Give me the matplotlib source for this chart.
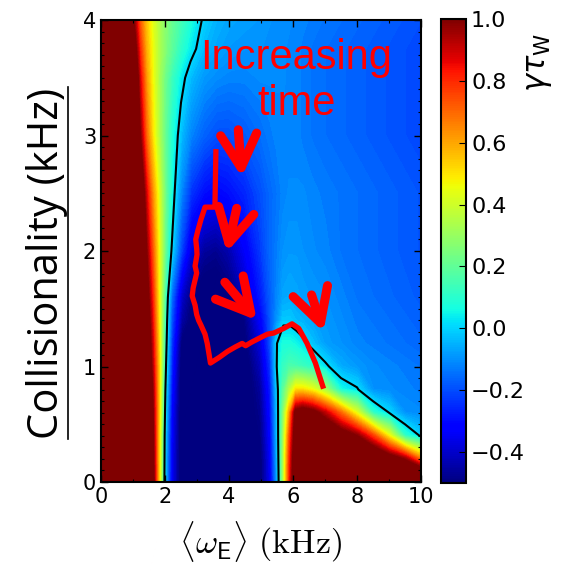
import numpy as np
import matplotlib
matplotlib.use("Agg")
import matplotlib.pyplot as plt
from matplotlib.colors import Normalize
from matplotlib.cm import ScalarMappable
from matplotlib.ticker import AutoMinorLocator, MultipleLocator
from matplotlib.lines import Line2D

# growth rate map gamma*tau_w on a coarse, uneven grid
omega_e = [0, 0.8, 1.0, 1.2, 1.4, 1.6, 1.8, 2.0, 2.2, 2.5,
           2.8, 3.2, 3.6, 4.0, 4.5, 5.0, 5.3, 5.5, 5.7, 5.9,
           6.1, 6.3, 6.6, 7.0, 7.5, 8.0, 8.5, 9.0, 9.5, 10.0]
collis = [0, 0.2, 0.4, 0.6, 0.8, 1.0, 1.2, 1.4, 1.6, 2.0, 2.5, 3.0, 3.5, 3.75, 4.0]

gamma_tau = [
    # y = 0
    [3, 2.5, 2.2, 1.8, 1.45, 1.08, 0.5, -0.05, -0.35, -0.55,
     -0.55, -0.55, -0.55, -0.55, -0.55, -0.52, -0.35, -0.1, 0.3, 0.8,
     1.2, 1.4, 1.5, 1.5, 1.5, 1.5, 1.5, 1.5, 1.5, 1.5],
    # y = 0.2
    [3, 2.5, 2.2, 1.8, 1.4, 1.05, 0.5, -0.04, -0.35, -0.55,
     -0.55, -0.55, -0.55, -0.55, -0.55, -0.52, -0.34, -0.08, 0.3, 0.78,
     1.15, 1.35, 1.45, 1.45, 1.4, 1.35, 1.25, 1.1, 0.95, 0.65],
    # y = 0.4
    [3, 2.5, 2.2, 1.8, 1.4, 1.03, 0.5, -0.03, -0.34, -0.55,
     -0.55, -0.55, -0.55, -0.55, -0.55, -0.5, -0.32, -0.06, 0.28, 0.72,
     1.1, 1.3, 1.3, 1.25, 1.1, 0.98, 0.75, 0.45, 0.1, -0.01],
    # y = 0.6
    [3, 2.5, 2.2, 1.75, 1.35, 1.0, 0.52, 0.0, -0.33, -0.55,
     -0.55, -0.55, -0.55, -0.55, -0.55, -0.48, -0.3, -0.05, 0.25, 0.6,
     1.05, 1.1, 1.05, 0.9, 0.68, 0.42, 0.1, 0.0, -0.1, -0.11],
    # y = 0.8
    [3, 2.5, 2.2, 1.7, 1.3, 0.97, 0.52, 0.02, -0.3, -0.55,
     -0.55, -0.55, -0.55, -0.55, -0.55, -0.46, -0.28, -0.03, 0.18, 0.35,
     0.5, 0.5, 0.45, 0.32, 0.06, 0.01, -0.1, -0.11, -0.12, -0.13],
    # y = 1.0
    [3, 2.5, 2.1, 1.65, 1.25, 0.92, 0.52, 0.05, -0.27, -0.55,
     -0.55, -0.55, -0.55, -0.55, -0.55, -0.42, -0.24, 0.01, 0.12, 0.16,
     0.15, 0.13, 0.1, 0.02, -0.06, -0.09, -0.11, -0.12, -0.13, -0.14],
    # y = 1.2
    [3, 2.5, 2.0, 1.6, 1.2, 0.88, 0.5, 0.08, -0.24, -0.52,
     -0.55, -0.55, -0.55, -0.55, -0.52, -0.38, -0.2, 0.0, 0.07, 0.07,
     0.05, 0.02, -0.03, -0.08, -0.1, -0.12, -0.13, -0.14, -0.15, -0.16],
    # y = 1.4
    [3, 2.4, 1.9, 1.5, 1.15, 0.84, 0.48, 0.1, -0.2, -0.45,
     -0.52, -0.55, -0.55, -0.55, -0.5, -0.33, -0.19, -0.1, -0.02, -0.02,
     -0.04, -0.05, -0.07, -0.09, -0.11, -0.13, -0.14, -0.15, -0.16, -0.17],
    # y = 1.6
    [3, 2.3, 1.8, 1.45, 1.1, 0.8, 0.46, 0.13, -0.16, -0.4,
     -0.5, -0.55, -0.55, -0.52, -0.42, -0.28, -0.18, -0.12, -0.07, -0.06,
     -0.07, -0.08, -0.09, -0.1, -0.12, -0.14, -0.15, -0.16, -0.17, -0.18],
    # y = 2.0
    [3, 2.2, 1.7, 1.35, 1.0, 0.72, 0.45, 0.2, 0.0, -0.22,
     -0.38, -0.46, -0.48, -0.44, -0.34, -0.23, -0.16, -0.13, -0.1, -0.09,
     -0.09, -0.1, -0.11, -0.12, -0.14, -0.15, -0.16, -0.17, -0.18, -0.19],
    # y = 2.5
    [3, 2.0, 1.55, 1.2, 0.88, 0.63, 0.42, 0.22, 0.06, -0.12,
     -0.24, -0.3, -0.32, -0.3, -0.26, -0.2, -0.16, -0.14, -0.12, -0.11,
     -0.11, -0.11, -0.12, -0.13, -0.14, -0.15, -0.16, -0.17, -0.18, -0.19],
    # y = 3.0
    [3, 1.8, 1.4, 1.0, 0.7, 0.5, 0.34, 0.2, 0.08, -0.04,
     -0.12, -0.17, -0.2, -0.2, -0.18, -0.15, -0.13, -0.12, -0.12, -0.12,
     -0.12, -0.13, -0.14, -0.15, -0.16, -0.17, -0.18, -0.19, -0.2, -0.21],
    # y = 3.5
    [3, 1.6, 1.25, 0.88, 0.62, 0.46, 0.33, 0.22, 0.13, 0.03,
     -0.04, -0.09, -0.11, -0.12, -0.12, -0.11, -0.11, -0.11, -0.11, -0.12,
     -0.12, -0.13, -0.14, -0.15, -0.16, -0.17, -0.18, -0.19, -0.2, -0.21],
    # y = 3.75
    [3, 1.5, 1.12, 0.8, 0.58, 0.45, 0.34, 0.26, 0.19, 0.1,
     0.03, -0.04, -0.07, -0.09, -0.1, -0.1, -0.1, -0.11, -0.11, -0.12,
     -0.12, -0.13, -0.14, -0.15, -0.16, -0.17, -0.18, -0.19, -0.2, -0.21],
    # y = 4.0
    [3, 1.4, 1.0, 0.72, 0.55, 0.43, 0.34, 0.27, 0.21, 0.14,
     0.07, -0.01, -0.05, -0.07, -0.08, -0.09, -0.1, -0.1, -0.11, -0.11,
     -0.12, -0.12, -0.13, -0.14, -0.15, -0.16, -0.17, -0.18, -0.19, -0.2],
]

# experimental trajectory (red line)
traj_x = [3.59, 3.56, 3.25, 3.12, 3.02, 2.96, 2.99, 3.00, 2.94, 2.99, 2.88, 2.85,
          2.94, 2.99, 3.05, 3.12, 3.25, 3.32, 3.38, 3.42, 3.70, 3.95, 4.20, 4.41,
          4.52, 4.70, 4.98, 5.20, 5.40, 5.71, 5.97, 6.18, 6.44, 6.70, 6.93]
traj_y = [2.86, 2.38, 2.38, 2.27, 2.17, 2.10, 2.02, 1.97, 1.87, 1.81, 1.68, 1.61,
          1.53, 1.45, 1.40, 1.36, 1.28, 1.20, 1.10, 1.03, 1.08, 1.13, 1.17, 1.20,
          1.18, 1.21, 1.25, 1.28, 1.29, 1.33, 1.37, 1.33, 1.20, 1.03, 0.83]

# arrows: (tail x, tail y, tip x, tip y)
arrows = [(4.29, 3.05, 4.40, 2.64),
          (4.24, 2.37, 3.93, 1.99),
          (3.87, 1.73, 4.87, 1.40),
          (6.58, 1.62, 6.95, 1.30)]

fig = plt.figure(figsize=(5.72, 5.77), dpi=100)
ax = fig.add_axes([0.1766, 0.1646, 0.5594, 0.8007])
cax = fig.add_axes([0.771, 0.163, 0.044, 0.804])

Z = np.array(gamma_tau)
cs = ax.contourf(omega_e, collis, Z, levels=np.linspace(-0.5, 1.0, 121),
                 cmap='jet', extend='both')
cs.set_edgecolor('face')
ax.contour(omega_e, collis, Z, levels=[0], colors='black', linewidths=1.5)

ax.plot(traj_x, traj_y, color='red', lw=3.8, solid_joinstyle='round')
for x0, y0, x1, y1 in arrows:
    ax.annotate('', xy=(x1, y1), xytext=(x0, y0),
                arrowprops=dict(arrowstyle='->,head_length=1.2,head_width=0.65',
                                color='red', lw=6.5, mutation_scale=20,
                                shrinkA=0, shrinkB=0))

ax.text(6.1, 3.47, 'Increasing\ntime', color='red', fontsize=30,
        family='Liberation Sans', ha='center', va='center', linespacing=1.2)

ax.set_xlim(0, 10)
ax.set_ylim(0, 4)
ax.xaxis.set_major_locator(MultipleLocator(2))
ax.xaxis.set_minor_locator(AutoMinorLocator(2))
ax.yaxis.set_major_locator(MultipleLocator(1))
ax.yaxis.set_minor_locator(AutoMinorLocator(10))
ax.tick_params(which='both', direction='in', top=True, right=True, labelsize=15)
ax.tick_params(which='major', length=5, width=1)
ax.tick_params(which='minor', length=2.5, width=0.8)
for s in ax.spines.values():
    s.set_linewidth(1.5)

ax.set_xlabel(r'$\langle\omega_{\mathsf{E}}\rangle\ (\mathrm{kHz})$',
              fontsize=24.5, math_fontfamily='cm', labelpad=9)
ax.set_ylabel('Collisionality (kHz)', fontsize=30, family='Open Sans')
ax.yaxis.set_label_coords((68 - 101) / 320, (482 - 263) / 462)

cb = fig.colorbar(ScalarMappable(norm=Normalize(-0.5, 1.0), cmap='jet'), cax=cax)
cb.set_ticks([-0.4, -0.2, 0.0, 0.2, 0.4, 0.6, 0.8, 1.0])
cb.ax.tick_params(direction='in', labelsize=16, length=5)
cb.outline.set_linewidth(1.5)
fig.text(540 / 572, 1 - 63 / 577, r'$\gamma\tau_{\mathsf{W}}$', fontsize=22,
         rotation=90, ha='center', va='center', math_fontfamily='dejavusans')

# underline the y label
fig.canvas.draw()
bb = ax.yaxis.label.get_window_extent()
W, H = fig.canvas.get_width_height()
fig.add_artist(Line2D([bb.x1 / W, bb.x1 / W], [bb.y0 / H, bb.y1 / H],
                      color='black', lw=1.2))

fig.savefig('out.png', dpi=100)
